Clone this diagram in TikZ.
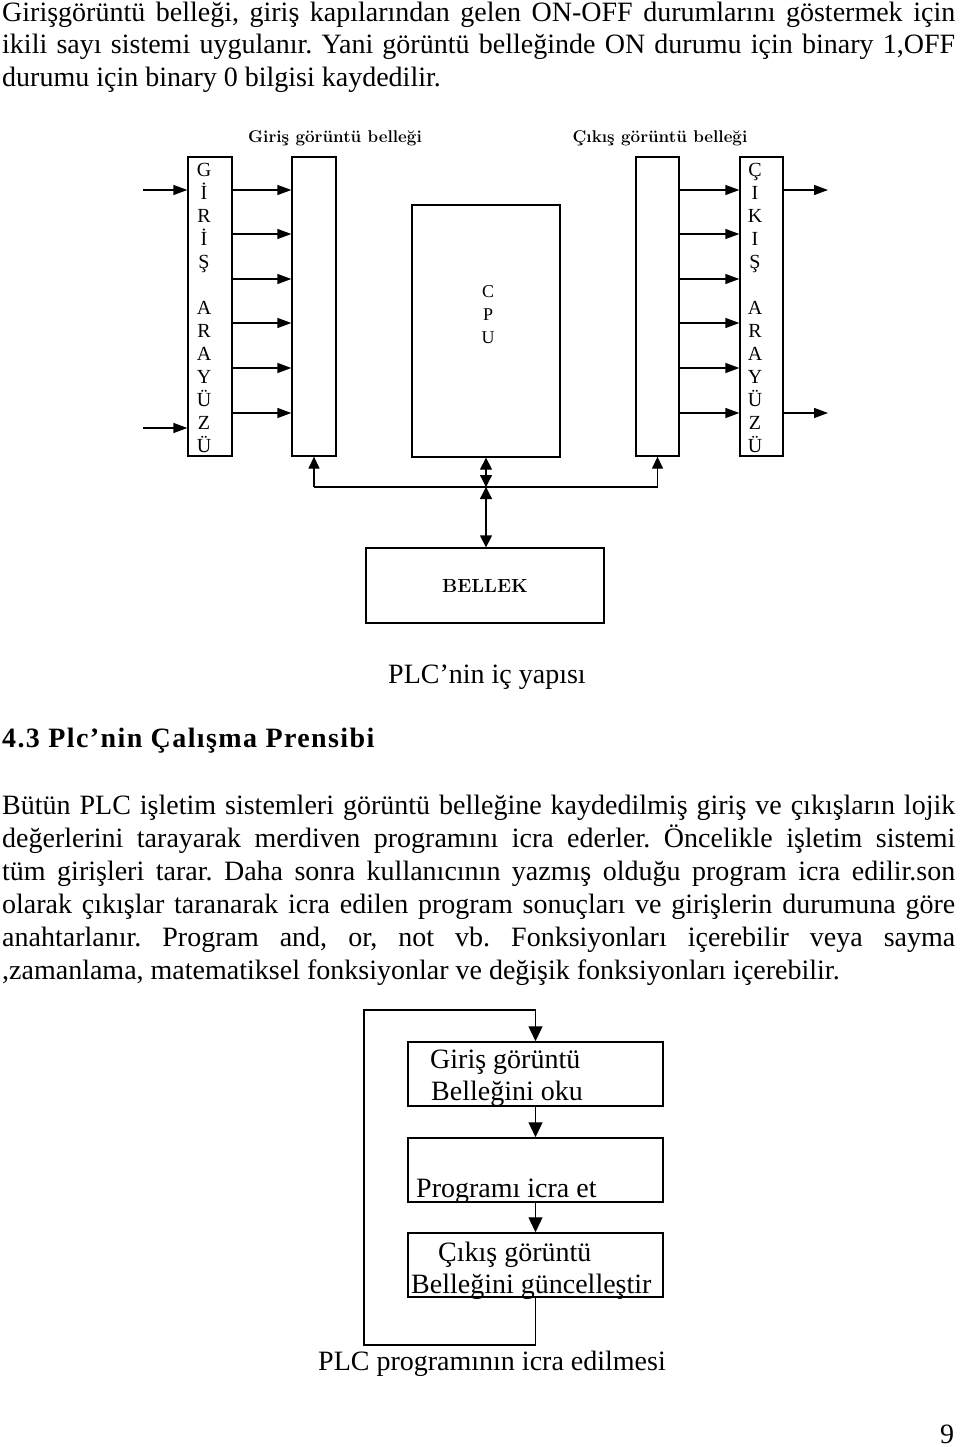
\documentclass[tikz,border=0pt]{standalone}
\usepackage{fontspec}
\newfontfamily\tnr{Liberation Serif}
\usetikzlibrary{arrows.meta,calc}
\begin{document}
\frenchspacing
\begin{tikzpicture}[x=1pt,y=-1pt,
  txt/.style={font=\tnr\fontsize{28}{33}\selectfont, inner sep=0, anchor=base west},
  blk/.style={draw, line width=1.3pt, inner sep=0},
  lab/.style={font=\bfseries\fontsize{17}{19}\selectfont, inner sep=0},
  vlet/.style={font=\tnr\fontsize{20}{23}\selectfont, align=center, inner sep=0},
  harr/.style={line width=1.3pt, -{Triangle[length=14pt,width=10pt]}},
  varr/.style={line width=1.3pt, -{Triangle[length=12pt,width=11pt]}},
  dbl/.style={line width=1.3pt, {Triangle[length=12pt,width=12pt]}-{Triangle[length=12pt,width=12pt]}},
  farr/.style={line width=1.3pt, -{Triangle[length=15pt,width=14pt]}},
  fbox/.style={draw, line width=1.5pt, inner sep=0, minimum width=255, minimum height=64}]
\useasboundingbox (0,0) rectangle (960,1447);
% top paragraph
\node[txt] (p1) at (2,22) {\makebox[953pt][s]{Girişgörüntü belleği, giriş kapılarından gelen ON-OFF durumlarını göstermek için}};
\node[txt] (p2) at (2,54) {\makebox[953pt][s]{ikili sayı sistemi uygulanır. Yani görüntü belleğinde ON durumu için binary 1,OFF}};
\node[txt] (p3) at (2,87) {durumu için binary 0 bilgisi kaydedilir.};
% diagram
\node[lab] (tin) at (335,138) {Giriş görüntü belleği};
\node[lab] (tout) at (660,138) {Çıkış görüntü belleği};
\node[blk, minimum width=44, minimum height=299] (ifl) at (210,306.5) {};
\node[blk, minimum width=44, minimum height=299] (imem) at (314,306.5) {};
\node[blk, minimum width=148, minimum height=252] (cpu) at (486,331) {};
\node[blk, minimum width=43, minimum height=299] (omem) at (657.5,306.5) {};
\node[blk, minimum width=43, minimum height=299] (ofl) at (761.5,306.5) {};
\node[blk, minimum width=238, minimum height=75, font=\bfseries\fontsize{19}{21}\selectfont] (bellek) at (485,585.5) {BELLEK};
\node[vlet] (lin) at (204,307.5) {G\\İ\\R\\İ\\Ş\\[23pt]A\\R\\A\\Y\\Ü\\Z\\Ü};
\node[vlet] (lout) at (755,307.5) {Ç\\I\\K\\I\\Ş\\[23pt]A\\R\\A\\Y\\Ü\\Z\\Ü};
\node[vlet, font=\tnr\fontsize{18}{23}\selectfont] (lcpu) at (488,315) {C\\P\\U};
\foreach \y [count=\i] in {190,234,279,323,368,413} {
  \coordinate (r\i) at (0,\y);
  \draw[harr] (ifl.east |- r\i) -- (imem.west |- r\i);
  \draw[harr] (omem.east |- r\i) -- (ofl.west |- r\i);
}
\coordinate (in1) at (143,190);
\coordinate (in2) at (143,428);
\coordinate (out1) at (828,190);
\coordinate (out2) at (828,413);
\draw[harr] (in1) -- (ifl.west |- in1);
\draw[harr] (in2) -- (ifl.west |- in2);
\draw[harr] (ofl.east |- out1) -- (out1);
\draw[harr] (ofl.east |- out2) -- (out2);
\coordinate (bus) at (486,487);
\draw[line width=1.3pt] (imem.south |- bus) -- (omem.south |- bus);
\draw[varr] (imem.south |- bus) -- (imem.south);
\draw[varr] (omem.south |- bus) -- (omem.south);
\draw[dbl] (cpu.south) -- (bus);
\draw[dbl] (bus) -- (bellek.north -| bus);
\node[txt] (cap1) at (388,683) {PLC’nin iç yapısı};
% heading and body
\node[txt, font=\tnr\bfseries\fontsize{28}{33}\selectfont\addfontfeature{LetterSpace=5}] (head) at (2,747) {4.3 Plc’nin Çalışma Prensibi};
\node[txt] (b1) at (2,814) {\makebox[953pt][s]{Bütün PLC işletim sistemleri görüntü belleğine kaydedilmiş giriş ve çıkışların lojik}};
\node[txt] (b2) at (2,847) {\makebox[953pt][s]{değerlerini tarayarak merdiven programını icra ederler. Öncelikle işletim sistemi}};
\node[txt] (b3) at (2,880) {\makebox[953pt][s]{tüm girişleri tarar. Daha sonra kullanıcının yazmış olduğu program icra edilir.son}};
\node[txt] (b4) at (2,913) {\makebox[953pt][s]{olarak çıkışlar taranarak icra edilen program sonuçları ve girişlerin durumuna göre}};
\node[txt] (b5) at (2,946) {\makebox[953pt][s]{anahtarlanır. Program and, or, not vb. Fonksiyonları içerebilir veya sayma}};
\node[txt] (b6) at (2,979) {,zamanlama, matematiksel fonksiyonlar ve değişik fonksiyonları içerebilir.};
% flowchart
\node[fbox] (f1) at (535.5,1074) {};
\node[fbox] (f2) at (535.5,1170) {};
\node[fbox] (f3) at (535.5,1265) {};
\node[txt] (f1a) at (430,1068) {Giriş görüntü};
\node[txt] (f1b) at (431,1100) {Belleğini oku};
\node[txt] (f2a) at (416,1197) {Programı icra et};
\node[txt] (f3a) at (438,1261) {Çıkış görüntü};
\node[txt] (f3b) at (411,1293) {Belleğini güncelleştir};
\draw[farr] (f1.south) -- (f2.north);
\draw[farr] (f2.south) -- (f3.north);
\coordinate (lp1) at (364,1345);
\coordinate (lp2) at (364,1010);
\draw[farr] (f3.south) |- (lp1) |- (f1.north |- lp2) -- (f1.north);
\node[txt] (cap2) at (318,1370) {PLC programının icra edilmesi};
\node[txt] (pg) at (940,1443) {9};
\end{tikzpicture}
\end{document}
